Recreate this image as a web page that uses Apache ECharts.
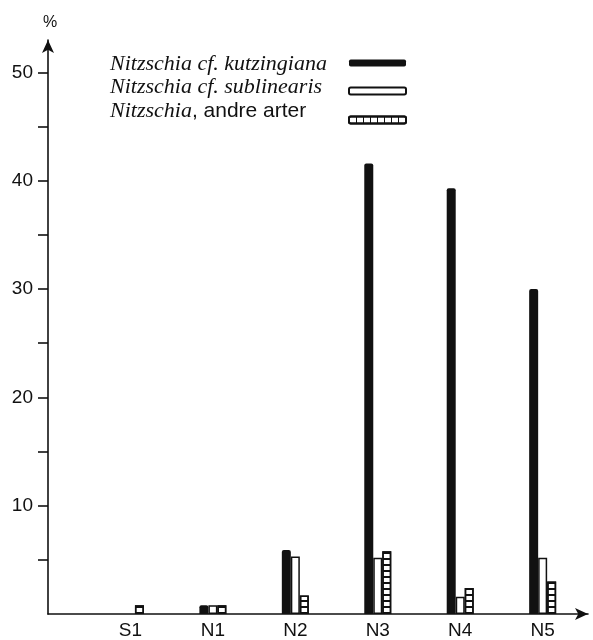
<!DOCTYPE html>
<html><head><meta charset="utf-8">
<script src="https://cdn.jsdelivr.net/npm/echarts@6/dist/echarts.min.js"></script>
<style>html,body{margin:0;padding:0;background:#fff}#c{width:593px;height:640px}</style>
</head><body><div id="c"></div>
<script>
var categories = ['S1', 'N1', 'N2', 'N3', 'N4', 'N5'];
var kutzingiana = [0, 0.8, 5.9, 41.6, 39.3, 30.0];
var sublinearis = [0, 0.8, 5.3, 5.2, 1.6, 5.2];
var andreArter = [0.8, 0.8, 1.7, 5.8, 2.4, 3.0];
var seriesNames = ['Nitzschia cf. kutzingiana', 'Nitzschia cf. sublinearis', 'Nitzschia, andre arter'];
var yLabelTicks = [10, 20, 30, 40, 50];
var yMinorTicks = [5, 10, 15, 20, 25, 30, 35, 40, 45, 50];

function pairs(arr) {
  return arr.map(function (v, i) { return v > 0 ? [i, v] : [i, null]; });
}
var ink = '#111';
var chart = echarts.init(document.getElementById('c'));
chart.setOption({
  animation: false,
  grid: { left: 48, right: 5, top: 40, bottom: 24.5 },
  legend: [
    {
      // icons only
      orient: 'vertical', left: 343, top: 54.5, selectedMode: false,
      itemWidth: 57, itemHeight: 7, itemGap: 20, icon: 'roundRect',
      data: [
        { name: seriesNames[0] },
        { name: seriesNames[1] },
        { name: seriesNames[2], itemStyle: { decal: { symbol: 'rect', symbolSize: 1, dashArrayX: [1, 5.5], dashArrayY: [1, 0], color: ink } } }
      ],
      formatter: function () { return ''; },
      textStyle: { fontSize: 7, lineHeight: 7 }
    },
    {
      // texts only
      orient: 'vertical', left: 99, top: 48, selectedMode: false,
      itemWidth: 0, itemHeight: 0, itemGap: 1.5,
      itemStyle: { opacity: 0 },
      data: seriesNames,
      formatter: function (n) {
        if (n === seriesNames[2]) return '{i|Nitzschia}{n|, andre arter}';
        return '{i|' + n + '}';
      },
      textStyle: {
        color: ink, lineHeight: 22,
        rich: {
          i: { fontFamily: 'Liberation Serif', fontStyle: 'italic', fontSize: 22, color: ink, lineHeight: 22 },
          n: { fontFamily: 'Liberation Sans', fontSize: 21, color: ink, lineHeight: 22 }
        }
      }
    }
  ],
  xAxis: {
    type: 'value', min: -1, max: 5.55,
    splitLine: { show: false },
    axisLine: { show: true, onZero: false, lineStyle: { color: ink, width: 1.6 }, symbol: ['none', 'arrow'], symbolSize: [9, 13] },
    axisTick: { show: false },
    axisLabel: {
      customValues: [0, 1, 2, 3, 4, 5], margin: 7,
      formatter: function (v) { return categories[v] || ''; },
      fontFamily: 'Liberation Sans', fontSize: 19, color: ink
    }
  },
  yAxis: {
    type: 'value', min: 0, max: 53,
    name: '%', nameLocation: 'end', nameGap: 9,
    nameTextStyle: { fontFamily: 'Liberation Sans', fontSize: 16, color: ink, padding: [0, 0, 0, 4] },
    splitLine: { show: false },
    axisLine: { show: true, onZero: false, lineStyle: { color: ink, width: 1.6 }, symbol: ['none', 'arrow'], symbolSize: [9, 13] },
    axisTick: { show: true, customValues: yMinorTicks, length: 10, lineStyle: { color: ink, width: 1.6 } },
    axisLabel: { customValues: yLabelTicks, margin: 15, fontFamily: 'Liberation Sans', fontSize: 19, color: ink }
  },
  series: [
    { name: seriesNames[0], type: 'bar', barWidth: 9, barGap: '0%', data: pairs(kutzingiana),
      itemStyle: { color: ink, borderRadius: [2, 2, 0, 0] } },
    { name: seriesNames[1], type: 'bar', barWidth: 9, barGap: '0%', data: pairs(sublinearis),
      itemStyle: { color: '#fff', borderColor: ink, borderWidth: 1.5 } },
    { name: seriesNames[2], type: 'bar', barWidth: 9, barGap: '0%', data: pairs(andreArter),
      itemStyle: { color: '#fff', borderColor: ink, borderWidth: 1.5,
        decal: { symbol: 'rect', symbolSize: 1, dashArrayX: [1, 0], dashArrayY: [1.2, 3.3], color: ink } } }
  ]
});
</script></body></html>
